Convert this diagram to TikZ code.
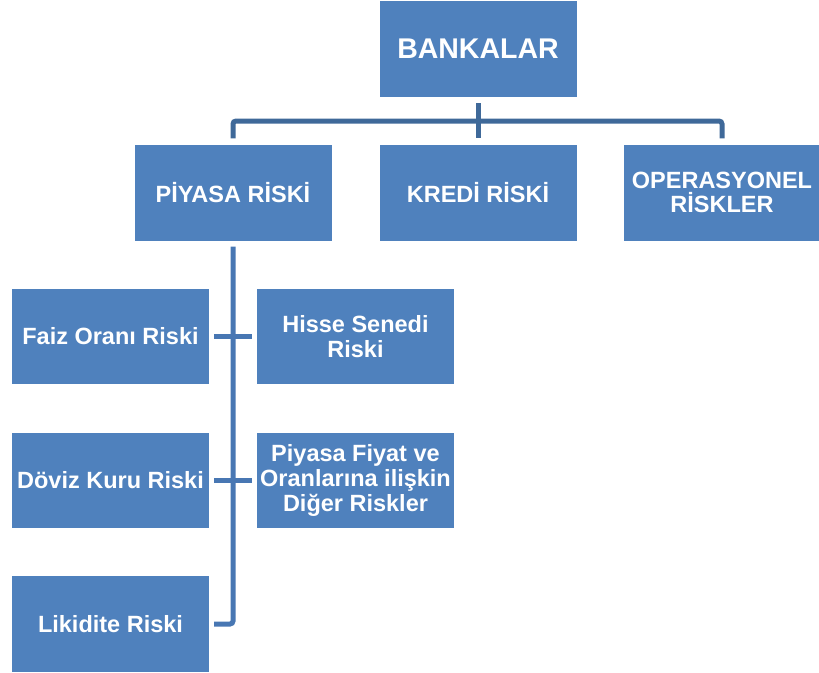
\documentclass[tikz,border=0pt]{standalone}
\usepackage{fontspec}
\setmainfont{Liberation Sans}
\begin{document}
\begin{tikzpicture}[x=1pt,y=-1pt,
  box/.style={fill=boxblue, draw=none, text=white, font=\bfseries\fontsize{23.5}{24.8}\selectfont,
    minimum width=197pt, minimum height=96pt, inner sep=1pt, align=center},
  topline/.style={draw=linedark, line width=5pt},
  subline/.style={draw=linelight, line width=5pt}]
\definecolor{boxblue}{HTML}{4F81BD}
\definecolor{linedark}{HTML}{3F6999}
\definecolor{linelight}{HTML}{4877B3}
\useasboundingbox (0,0) rectangle (819,672);

% top level
\node[box, font=\bfseries\fontsize{28.5}{30}\selectfont] (bank) at (478,49) {BANKALAR};

% second level
\node[box] (piy) at (233,192.5) {PİYASA RİSKİ};
\node[box] (kre) at (478,192.5) {KREDİ RİSKİ};
\node[box, minimum width=196pt] (ope) at (722,192.5) {OPERASYONEL\\RİSKLER};

% market risk subtypes
\node[box, minimum height=95pt] (faiz) at (110.5,336.5) {Faiz Oranı Riski};
\node[box, minimum height=95pt] (hisse) at (355.5,336.5) {Hisse Senedi\\Riski};
\node[box, minimum height=95pt] (doviz) at (110.5,480.5) {Döviz Kuru Riski};
\node[box, minimum height=95pt] (diger) at (355.5,480.5) {Piyasa Fiyat ve\\Oranlarına ilişkin\\Diğer Riskler};
\node[box] (lik) at (110.5,624) {Likidite Riski};

% connectors of the top bus
\coordinate (bus) at (478,121);
\draw[topline] ([yshift=-6pt]bank.south) -- ([yshift=6pt]kre.north);
\draw[topline, rounded corners=3pt] ([yshift=6pt]piy.north) |- (bus) -| ([yshift=6pt]ope.north);

% connectors below market risk
\draw[subline, rounded corners=3pt] ([yshift=-6pt]piy.south) |- ([xshift=5pt]lik.east);
\draw[subline] ([xshift=5pt]faiz.east) -- ([xshift=-5pt]hisse.west);
\draw[subline] ([xshift=5pt]doviz.east) -- ([xshift=-5pt]diger.west);
\end{tikzpicture}
\end{document}
